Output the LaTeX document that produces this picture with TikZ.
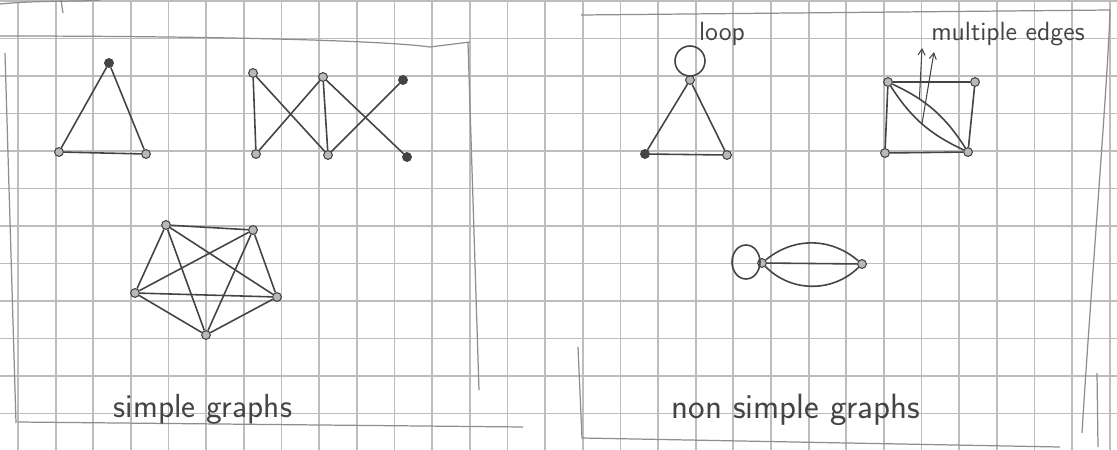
\documentclass[tikz,border=0pt]{standalone}
\usepackage{tikz}
\usetikzlibrary{arrows.meta, positioning}

\definecolor{pencil}{HTML}{444444}
\definecolor{paperline}{HTML}{BDBDBD}
\definecolor{frameline}{HTML}{8E8E8E}

\tikzset{
  vtx/.style={circle, draw=pencil, fill=gray!55, line width=0.6pt, inner sep=0pt, minimum size=5pt},
  vtxdark/.style={vtx, fill=pencil},
  pen/.style={draw=pencil, line width=0.9pt},
  framestroke/.style={draw=frameline, line width=0.7pt},
  hand/.style={font=\sffamily\fontsize{15}{18}\selectfont, text=pencil, inner sep=0pt, anchor=base},
}

\begin{document}
\begin{tikzpicture}[x=0.02cm, y=-0.02cm]
  \useasboundingbox (0,0) rectangle (1117,450);
  % squared paper
  \foreach \k in {0,...,29}
    \draw[paperline, line width=1pt] ({18+37.65*\k},0) -- ({18+37.65*\k},450);
  \foreach \k in {0,...,11}
    \draw[paperline, line width=1pt] (0,{1+37.5*\k}) -- (1117,{1+37.5*\k});

  % hand-drawn frames
  \draw[framestroke] (0,4) .. controls (40,0) and (80,2) .. (100,0);
  \draw[framestroke] (61,0) -- (63,13);
  \draw[framestroke] (0,36) .. controls (200,36) and (380,40) .. (430,47) -- (470,42);
  \draw[framestroke] (5,53) -- (16,423);
  \draw[framestroke] (18,422) -- (523,427);
  \draw[framestroke] (468,43) -- (479,390);
  \draw[framestroke] (581,15) -- (1110,10);
  \draw[framestroke] (1110,10) .. controls (1108,80) and (1090,300) .. (1082,433);
  \draw[framestroke] (1097,373) -- (1098,447);
  \draw[framestroke] (578,347) -- (582,438) -- (1060,447);

  % simple graphs: triangle
  \node[vtxdark] (t1) at (109,63) {};
  \node[vtx] (t2) at (59,152) {};
  \node[vtx] (t3) at (146,154) {};
  \foreach \a/\b in {t1/t2, t2/t3, t3/t1}
    \draw[pen] (\a) -- (\b);

  % simple graphs: zigzag
  \node[vtx] (za1) at (253,73) {};
  \node[vtx] (za2) at (323,77) {};
  \node[vtxdark] (za3) at (403,80) {};
  \node[vtx] (zb1) at (256,154) {};
  \node[vtx] (zb2) at (328,155) {};
  \node[vtxdark] (zb3) at (407,157) {};
  \foreach \a/\b in {za1/zb1, za1/zb2, zb1/za2, za2/zb2, za2/zb3, zb2/za3}
    \draw[pen] (\a) -- (\b);

  % simple graphs: complete graph on five vertices
  \node[vtx] (k1) at (166,225) {};
  \node[vtx] (k2) at (253,230) {};
  \node[vtx] (k3) at (277,297) {};
  \node[vtx] (k4) at (206,335) {};
  \node[vtx] (k5) at (135,293) {};
  \foreach \a/\b in {k1/k2, k1/k3, k1/k4, k1/k5, k2/k3, k2/k4, k2/k5, k3/k4, k3/k5, k4/k5}
    \draw[pen] (\a) -- (\b);

  \node[hand, font=\sffamily\fontsize{19}{22}\selectfont] (simplelbl) at (203,417) {simple graphs};

  % non simple graphs: loop
  \node[vtx] (l1) at (690,80) {};
  \node[vtxdark] (l2) at (645,154) {};
  \node[vtx] (l3) at (727,155) {};
  \foreach \a/\b in {l1/l2, l1/l3, l2/l3}
    \draw[pen] (\a) -- (\b);
  \draw[pen] (l1) ++(0,-19) circle (15);
  \node[hand] (looplbl) at (722,40) {loop};

  % non simple graphs: multiple edges
  \node[vtx] (s1) at (888,82) {};
  \node[vtx] (s2) at (975,82) {};
  \node[vtx] (s3) at (885,153) {};
  \node[vtx] (s4) at (968,152) {};
  \foreach \a/\b in {s1/s2, s1/s3, s3/s4, s2/s4}
    \draw[pen] (\a) -- (\b);
  \draw[pen] (s1) to[bend left=16] coordinate[pos=0.3] (me1) (s4);
  \draw[pen] (s1) to[bend right=16] coordinate[pos=0.5] (me2) (s4);
  \node[hand] (multilbl) at (1008,40) {multiple edges};
  \coordinate (mt1) at (922,48);
  \coordinate (mt2) at (934,52);
  \draw[draw=pencil, line width=0.6pt, -{Straight Barb[angle=60:4pt]}] (me1) -- (mt1);
  \draw[draw=pencil, line width=0.6pt, -{Straight Barb[angle=60:4pt]}] (me2) -- (mt2);

  % non simple graphs: loop with multiple edges
  \node[vtx] (m1) at (762,263) {};
  \node[vtx] (m2) at (862,264) {};
  \draw[pen] (m1) -- (m2);
  \draw[pen] (m1) to[bend left=40] (m2);
  \draw[pen] (m1) to[bend right=45] (m2);
  \draw[pen] (m1) ++(-16,-1) ellipse (14 and 17);

  \node[hand, font=\sffamily\fontsize{20}{24}\selectfont] (nonsimplelbl) at (796,418) {non simple graphs};
\end{tikzpicture}
\end{document}
